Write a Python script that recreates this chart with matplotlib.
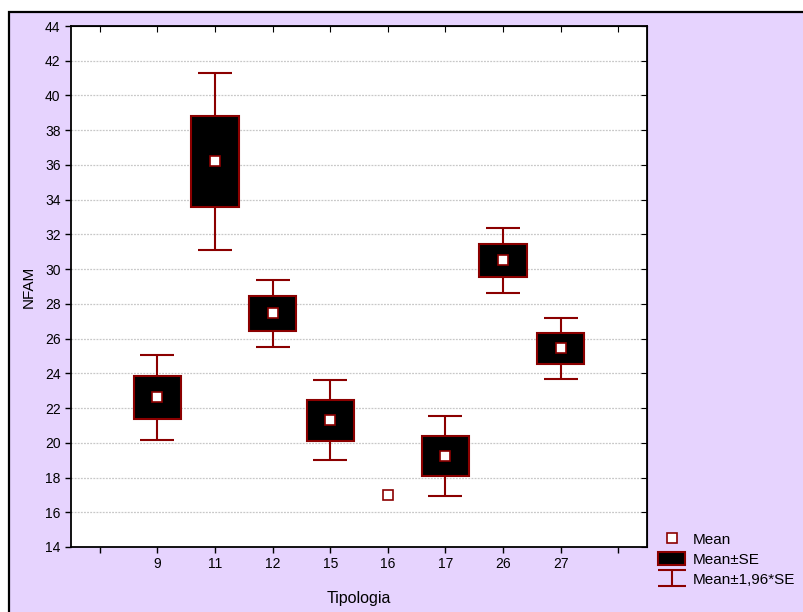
# Means with SE boxes and 1.96*SE whiskers by Tipologia

import numpy as np
import matplotlib.pyplot as plt
from matplotlib.patches import Rectangle, Patch
from matplotlib.lines import Line2D
from matplotlib.path import Path

plt.rcParams['font.family'] = ['Liberation Sans', 'DejaVu Sans']
plt.rcParams['font.size'] = 10

# Data
tipologia = ["9", "11", "12", "15", "16", "17", "26", "27"]
means = [22.62, 36.2, 27.45, 21.3, 17.0, 19.25, 30.5, 25.43]
se = [1.25, 2.6, 0.99, 1.17, np.nan, 1.17, 0.96, 0.9]

red = "#8B0000"
lavender = "#E6D3FE"

x = np.arange(len(tipologia))
means = np.array(means)
se = np.array(se)
has_se = ~np.isnan(se)

fig = plt.figure(figsize=(8.04, 6.12), dpi=100)
fig.patch.set_facecolor("white")
fig.patches.append(Rectangle((9 / 804, -0.02), 1.0, 600 / 612 + 0.02,
                             transform=fig.transFigure, facecolor=lavender,
                             edgecolor="black", linewidth=1.6, zorder=-10))

ax = fig.add_axes([71 / 804, 1 - 547 / 612, 576 / 804, 521 / 612])
ax.set_facecolor("white")

# whiskers (Mean +- 1.96*SE)
ax.errorbar(x[has_se], means[has_se], yerr=1.96 * se[has_se], fmt="none",
            ecolor=red, elinewidth=1.5, capsize=12, capthick=1.5, zorder=2)
# boxes (Mean +- SE)
ax.bar(x[has_se], 2 * se[has_se], bottom=means[has_se] - se[has_se], width=0.82,
       color="black", edgecolor=red, linewidth=1.5, zorder=3)
# means
ax.plot(x, means, "s", markersize=6.5, markerfacecolor="white",
        markeredgecolor=red, markeredgewidth=1.2, linestyle="none", zorder=4)

ax.set_xlim(-1.5, 8.5)
ax.set_ylim(14, 44)
ax.set_xticks(np.arange(-1, 9))
ax.set_xticklabels([""] + tipologia + [""])
ax.set_yticks(np.arange(14, 45, 2))
ax.tick_params(direction="out", length=4, width=1, colors="black", labelsize=10)

for y in np.arange(16, 44, 2):
    ax.axhline(y, color="#c8c8c8", linestyle=(0, (1.5, 1)), linewidth=0.9, zorder=0)

top = ax.secondary_xaxis("top")
top.set_xticks(np.arange(-1, 9))
top.tick_params(direction="in", length=4, labeltop=False)
right = ax.secondary_yaxis("right")
right.set_yticks(np.arange(14, 45, 2))
right.tick_params(direction="in", length=4, labelright=False)

for s in ax.spines.values():
    s.set_linewidth(1.3)

fig.text(29 / 804, 1 - 287 / 612, "NFAM", rotation=90, ha="center", va="center",
         fontsize=11)
fig.text(359 / 804, 1 - 598 / 612, "Tipologia", ha="center", va="center",
         fontsize=11.5)

# legend
ibeam = Path([(-1, 0.55), (1, 0.55), (0, 0.55), (0, -0.55), (-1, -0.55), (1, -0.55)],
             [Path.MOVETO, Path.LINETO, Path.MOVETO, Path.LINETO, Path.MOVETO, Path.LINETO])
handles = [
    Line2D([], [], marker="s", markersize=6.5, markerfacecolor="white",
           markeredgecolor=red, markeredgewidth=1.2, linestyle="none"),
    Patch(facecolor="black", edgecolor=red, linewidth=1.5),
    Line2D([], [], marker=ibeam, markersize=20, markeredgecolor=red,
           markerfacecolor="none", markeredgewidth=1.5, linestyle="none"),
]
fig.legend(handles, ["Mean", "Mean±SE", "Mean±1,96*SE"],
           loc="upper left", bbox_to_anchor=(658 / 804, 1 - 532 / 612),
           frameon=False, handlelength=1.8, handleheight=0.95,
           handletextpad=0.5, labelspacing=0.35, borderpad=0,
           borderaxespad=0, fontsize=11)

plt.savefig("out.png", dpi=100)
